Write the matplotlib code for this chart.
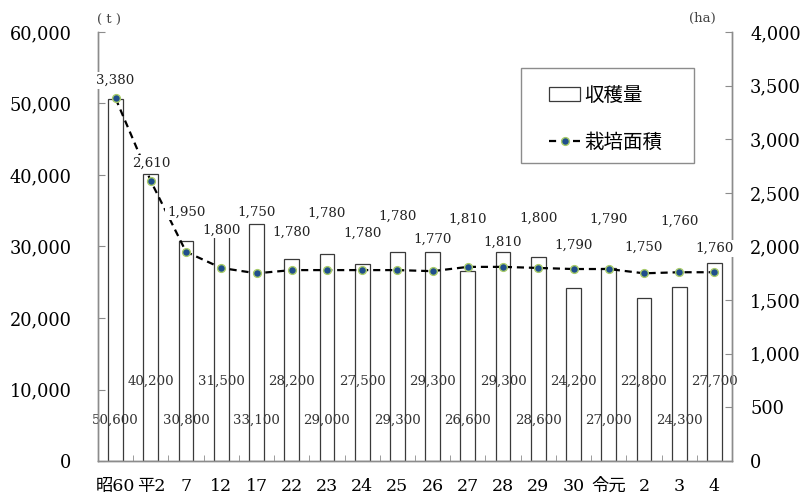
import matplotlib
matplotlib.use("Agg")
import matplotlib.pyplot as plt
from matplotlib.patches import Rectangle
from matplotlib.ticker import FuncFormatter, MultipleLocator, FixedLocator

plt.rcParams['font.family'] = ['DejaVu Serif', 'Noto Sans CJK JP']

# data
years = ["昭60", "平2", "7", "12", "17", "22", "23", "24", "25", "26",
         "27", "28", "29", "30", "令元", "2", "3", "4"]
harvest = [50600, 40200, 30800, 31500, 33100, 28200, 29000, 27500, 29300,
           29300, 26600, 29300, 28600, 24200, 27000, 22800, 24300, 27700]
area = [3380, 2610, 1950, 1800, 1750, 1780, 1780, 1780, 1780, 1770,
        1810, 1810, 1800, 1790, 1790, 1750, 1760, 1760]

# label placement (pixels above each point)
label_dy = [18, 18, 40, 38, 61, 38, 57, 37, 54, 32, 48, 25, 50, 24, 50, 26, 51, 24]

grey = '#8c8c8c'
fig = plt.figure(figsize=(8.05, 4.98), dpi=100)
ax = fig.add_axes([98/805, 37/498, (732-98)/805, (461-32)/498])
ax2 = ax.twinx()

x = list(range(len(years)))
bars = ax.bar(x, harvest, width=0.42, color='white', edgecolor='#3a3a3a',
              linewidth=0.9, label='収穫量', zorder=2)
line, = ax2.plot(x, area, color='black', linestyle=(0, (3.2, 2.2)), linewidth=1.6,
                 marker='o', markersize=5.6, markerfacecolor='#1f4e8c',
                 markeredgecolor='#a8cc6a', markeredgewidth=1.0, label='栽培面積',
                 zorder=4)

# bar value labels, staggered
for i, v in enumerate(harvest):
    yy = 5700 if i % 2 == 0 else 11100
    ax.text(i, yy, f"{v:,}", ha='center', va='center', fontsize=9.6,
            color='#333333', zorder=3)

# area value labels
for i, v in enumerate(area):
    ax2.annotate(f"{v:,}", (i, v), xytext=(0, label_dy[i]), textcoords='offset pixels',
                 ha='center', va='center', fontsize=9.6, color='#222222', zorder=5,
                 bbox=dict(boxstyle='square,pad=0.15', facecolor='white', edgecolor='none'))

ax.set_xlim(-0.5, len(years) - 0.5)
ax.set_ylim(0, 60000)
ax2.set_ylim(0, 4000)
ax.yaxis.set_major_locator(MultipleLocator(10000))
ax2.yaxis.set_major_locator(MultipleLocator(500))
fmt = FuncFormatter(lambda v, p: f"{int(v):,}")
ax.yaxis.set_major_formatter(fmt)
ax2.yaxis.set_major_formatter(fmt)

ax.set_xticks(x)
ax.set_xticklabels(years)
ax.xaxis.set_minor_locator(FixedLocator([i + 0.5 for i in range(len(years) - 1)]))
ax.tick_params(axis='x', which='major', length=0, pad=12, labelsize=12.5)
ax.tick_params(axis='x', which='minor', length=4, direction='in', color=grey)
ax.tick_params(axis='y', direction='in', length=5, color=grey, pad=19, labelsize=12.8)
ax2.tick_params(axis='y', direction='in', length=5, color=grey, pad=13, labelsize=12.8)

for a in (ax, ax2):
    a.spines['top'].set_visible(False)
    for s in ('left', 'right', 'bottom'):
        a.spines[s].set_color(grey)
        a.spines[s].set_linewidth(1.0)

fig.text(109/805, 1 - 20/498, "( t )", ha='center', va='center', fontsize=9.5, color='#444444')
fig.text(702/805, 1 - 18/498, "(ha)", ha='center', va='center', fontsize=9.5, color='#444444')

# legend
fig.patches.append(Rectangle((521/805, 1 - 163/498), (694-521)/805, (163-68)/498,
                             transform=fig.transFigure, facecolor='white',
                             edgecolor=grey, linewidth=1.0, zorder=10))
leg = fig.legend(handles=[bars, line], loc='upper left',
                 bbox_to_anchor=(549/805, 1 - 85/498), frameon=False,
                 borderpad=0, borderaxespad=0, handlelength=1.6, handletextpad=0.2,
                 labelspacing=1.35, prop={'family': 'Noto Sans CJK JP', 'size': 14})
leg.set_zorder(11)

plt.savefig("out.png", dpi=100)
